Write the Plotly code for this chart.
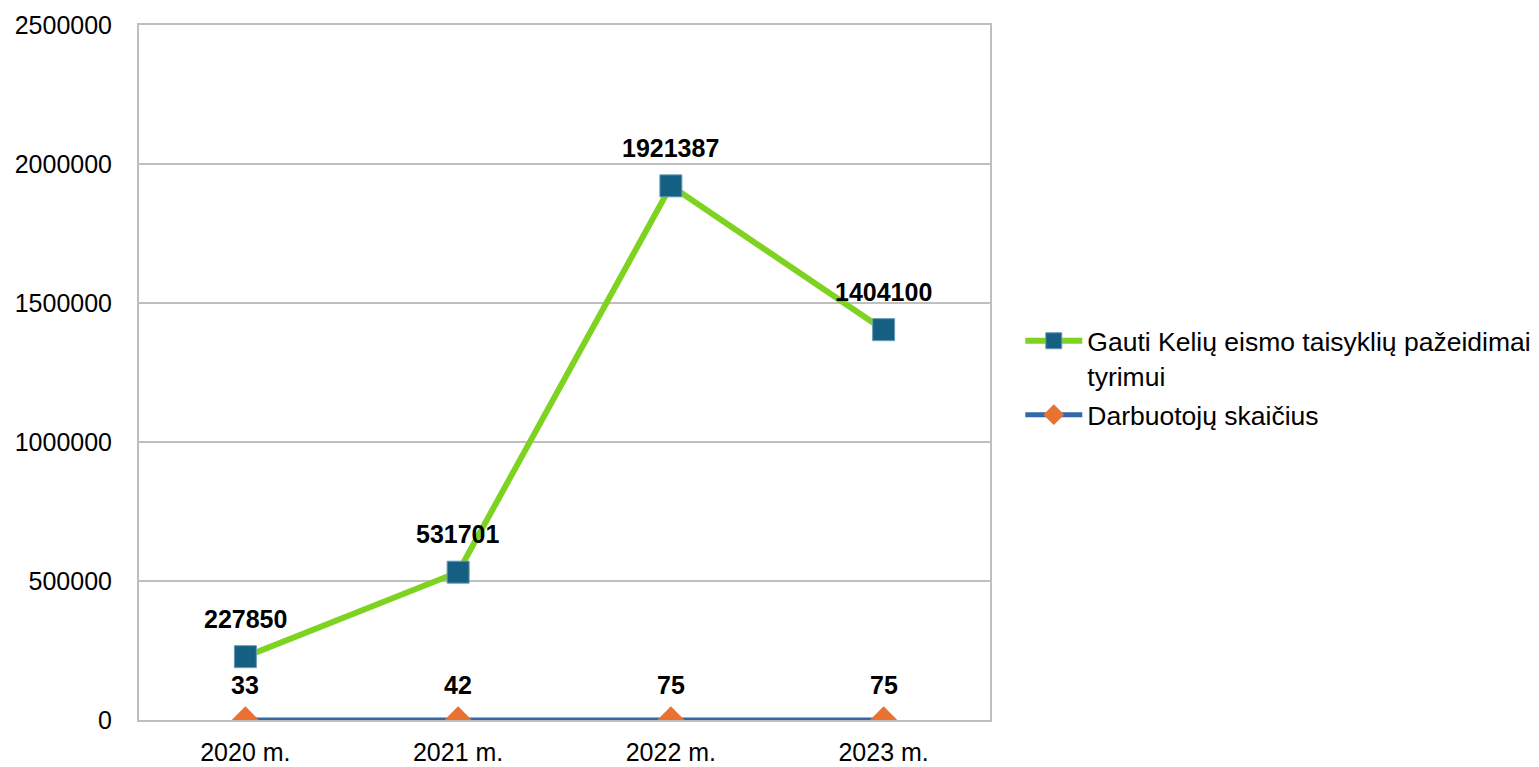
import plotly.graph_objects as go

categories = ["2020 m.", "2021 m.", "2022 m.", "2023 m."]
violations = [227850, 531701, 1921387, 1404100]
employees = [33, 42, 75, 75]
name_violations = "Gauti Kelių eismo taisyklių pažeidimai<br>tyrimui"
name_employees = "Darbuotojų skaičius"
y_ticks = [0, 500000, 1000000, 1500000, 2000000, 2500000]

FONT = "Liberation Sans, Arial, sans-serif"

fig = go.Figure()
fig.add_trace(go.Scatter(
    x=categories, y=violations, name=name_violations, mode="lines+markers",
    legendgroup="a",
    line=dict(color="#7ED321", width=6),
    marker=dict(symbol="square", size=22, color="#156082",
                line=dict(color="#6A9AB5", width=1)),
))
fig.add_trace(go.Scatter(
    x=categories, y=employees, name=name_employees, mode="lines+markers",
    legendgroup="b",
    line=dict(color="#3566A8", width=5),
    marker=dict(symbol="diamond", size=21, color="#E97132",
                line=dict(width=0)),
))

for cx, v in zip(categories, violations):
    fig.add_annotation(x=cx, y=v, text=f"<b>{v}</b>", showarrow=False,
                       yshift=38, font=dict(size=25, color="#000000", family=FONT))
for cx, v in zip(categories, employees):
    fig.add_annotation(x=cx, y=v, text=f"<b>{v}</b>", showarrow=False,
                       yshift=35, font=dict(size=25, color="#000000", family=FONT))

fig.update_layout(
    width=1539, height=767,
    margin=dict(l=139, r=549, t=25, b=47, autoexpand=False),
    paper_bgcolor="white", plot_bgcolor="white",
    font=dict(family=FONT, size=25, color="#000000"),
    showlegend=True,
    legend=dict(x=1.0356, y=0.5798, xanchor="left", yanchor="top",
                font=dict(size=26.5, family=FONT), bgcolor="rgba(0,0,0,0)",
                itemwidth=57, tracegroupgap=2, valign="top"),
    xaxis=dict(type="category", range=[-0.5, 3.5], showgrid=False,
               showline=True, linecolor="#BFBFBF", linewidth=2, mirror=True,
               ticks="", ticklabelstandoff=9, tickfont=dict(size=25),
               automargin=False),
    yaxis=dict(range=[0, 2500000], tickvals=y_ticks, tickformat="d",
               showgrid=True, gridcolor="#BFBFBF", gridwidth=2,
               showline=True, linecolor="#BFBFBF", linewidth=2, mirror=True,
               zeroline=False, ticks="", ticklabelstandoff=20,
               tickfont=dict(size=25), automargin=False),
)

fig.write_html("out.html", config={"displayModeBar": False},
               post_script="document.body.style.margin='0';document.body.style.overflow='hidden';")
